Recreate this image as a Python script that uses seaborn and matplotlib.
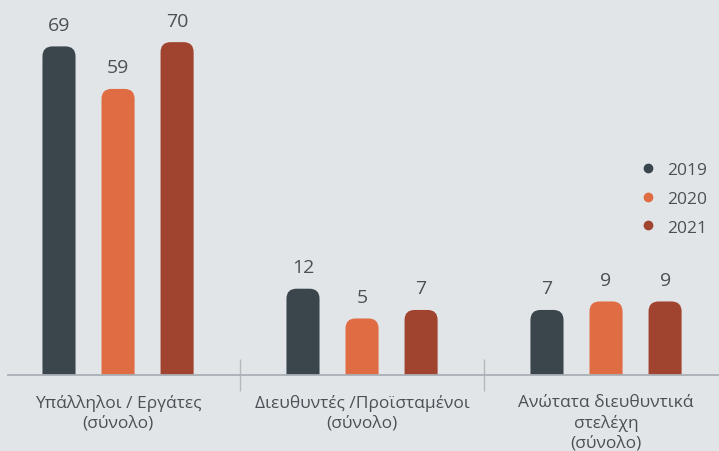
import matplotlib.pyplot as plt
import seaborn as sns
import pandas as pd
from matplotlib.patches import FancyBboxPatch
from matplotlib.lines import Line2D

# data
categories = ["Υπάλληλοι / Εργάτες\n(σύνολο)",
              "Διευθυντές /Προϊσταμένοι\n(σύνολο)",
              "Ανώτατα διευθυντικά\nστελέχη\n(σύνολο)"]
years = ["2019", "2020", "2021"]
v2019 = [69, 12, 7]
v2020 = [59, 5, 9]
v2021 = [70, 7, 9]
colors = ["#3b464c", "#e06c43", "#a0432f"]

bg = "#e2e5e8"
text_color = "#4a5156"

df = pd.DataFrame({
    "category": categories * 3,
    "year": [y for y in years for _ in categories],
    "value": v2019 + v2020 + v2021,
})

sns.set_theme(style="white")
plt.rcParams['font.family'] = ['Open Sans', 'DejaVu Sans']

fig = plt.figure(figsize=(7.19, 4.52), dpi=100, facecolor=bg)
ax = fig.add_axes([8 / 719, 76 / 452, 711 / 719, 366 / 452])
ax.set_facecolor(bg)

sns.barplot(data=df, x="category", y="value", hue="year", palette=colors,
            width=0.726, gap=0.44, saturation=1, legend=False, ax=ax)

xlim = (-0.451, 2.463)
ylim = (-8.3, 77.8)
ax.set_xlim(*xlim)
ax.set_ylim(*ylim)

# rounded tops: swap the seaborn rectangles for rounded boxes
px_x = 711 / (xlim[1] - xlim[0])
px_y = 366 / (ylim[1] - ylim[0])
aspect = px_x / px_y
r = 10 / px_x
for p in list(ax.patches):
    x, w, h = p.get_x(), p.get_width(), p.get_height()
    fc = p.get_facecolor()
    p.remove()
    bottom = -14
    ax.add_patch(FancyBboxPatch((x, bottom), w, h - bottom,
                                boxstyle=f"round,pad=0,rounding_size={r}",
                                mutation_aspect=aspect, fc=fc, ec="none"))
    ax.annotate(f"{h:.0f}", (x + w / 2, h), xytext=(0, 9),
                textcoords="offset points", ha="center", va="bottom",
                fontsize=14, color=text_color)

for s in ["top", "right", "left"]:
    ax.spines[s].set_visible(False)
ax.spines["bottom"].set_color("#a9afb4")
ax.spines["bottom"].set_linewidth(1.3)

ax.set_yticks([])
ax.set_xlabel("")
ax.set_ylabel("")
ax.tick_params(axis="x", which="major", bottom=True, length=0, pad=14,
               labelsize=12.5, labelcolor=text_color)
for lbl in ax.get_xticklabels():
    lbl.set_linespacing(1.28)
ax.set_xticks([0.5, 1.5], minor=True)
ax.tick_params(axis="x", which="minor", bottom=True, direction="inout",
               length=23, width=1, color="#b3b8bc")

handles = [Line2D([], [], marker="o", ls="", color=c, markersize=6) for c in colors]
fig.legend(handles, years, loc="center left", bbox_to_anchor=(0.889, 0.558),
           frameon=False, fontsize=12.5, labelcolor=text_color, handlelength=1,
           handletextpad=0.6, labelspacing=0.72, borderpad=0, borderaxespad=0)

fig.savefig("out.png", dpi=100, facecolor=bg)
